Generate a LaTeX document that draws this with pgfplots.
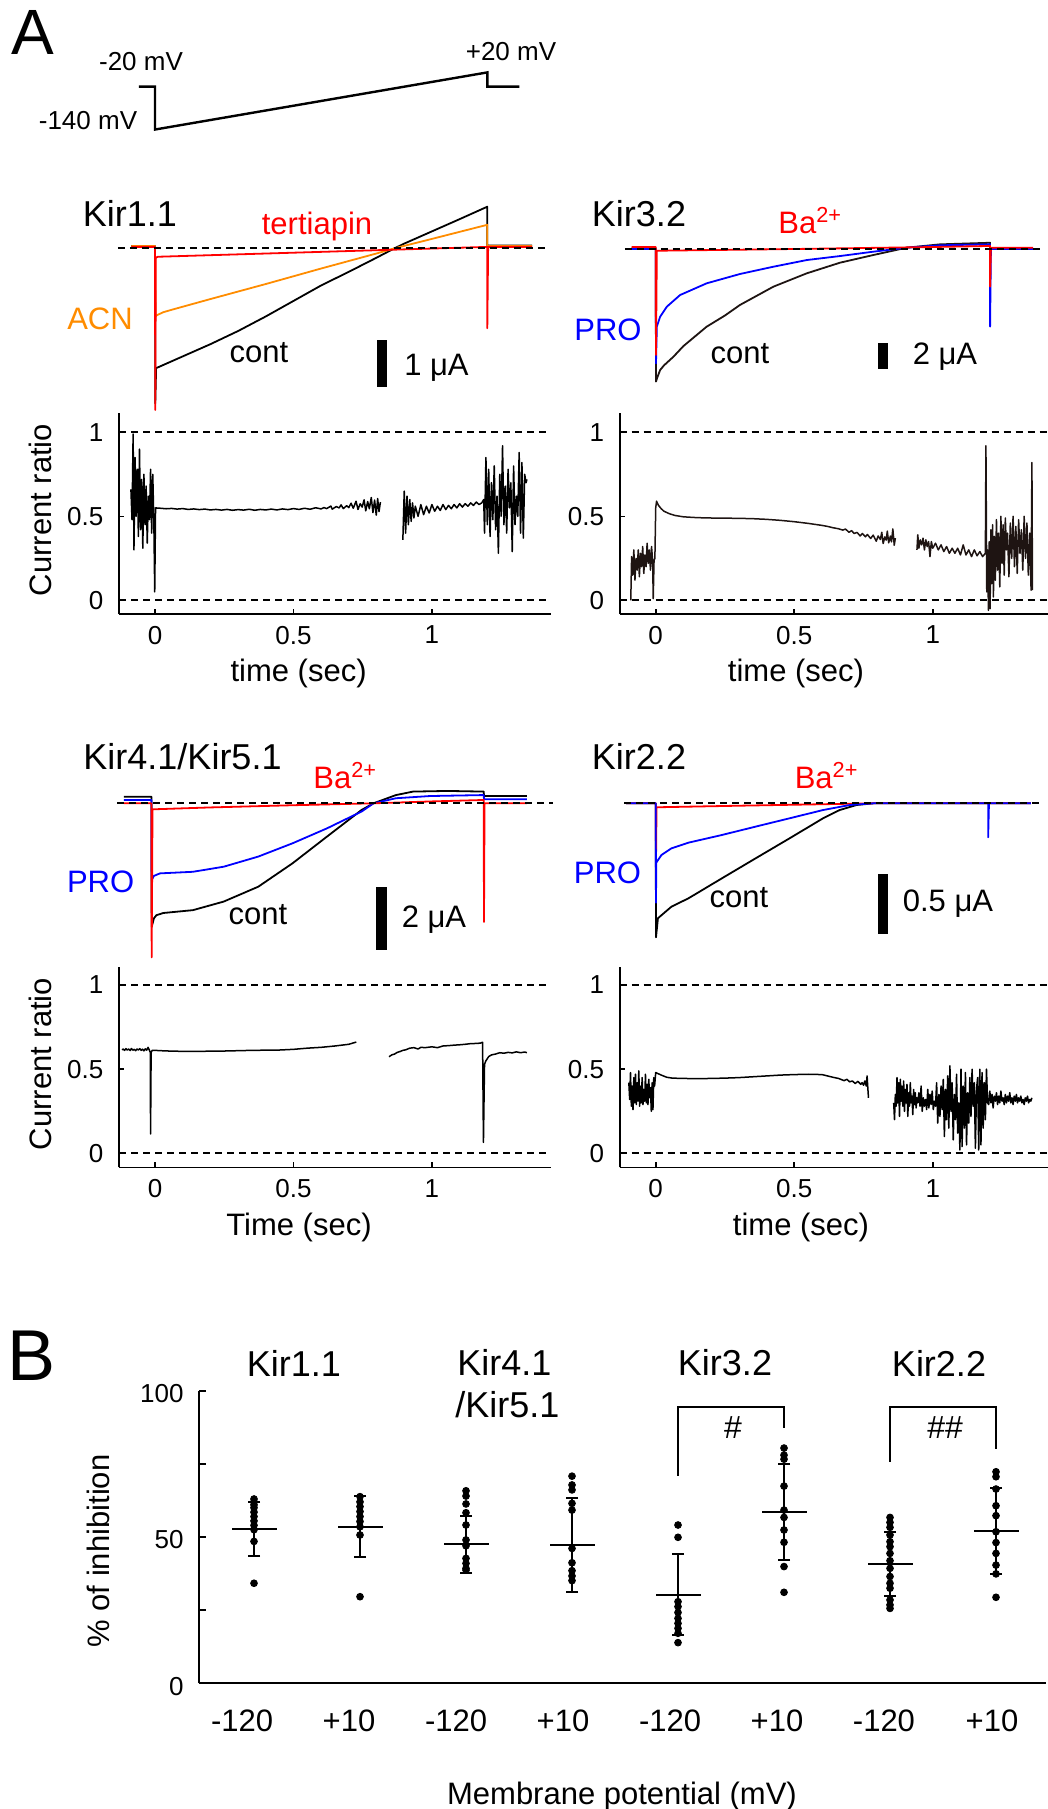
\documentclass[border=0pt]{standalone}
\usepackage{pgfplots}
\pgfplotsset{compat=1.18}
\usepackage{fontspec}
\setmainfont{Liberation Sans}
\definecolor{kred}{RGB}{255,0,0}
\definecolor{korange}{RGB}{255,140,0}
\definecolor{kblue}{RGB}{0,0,255}
\definecolor{kdark}{RGB}{30,20,18}
\newcommand{\fT}{\fontsize{18}{18}\selectfont}
\newcommand{\fL}{\fontsize{15.5}{15.5}\selectfont}
\newcommand{\fP}{\fontsize{13}{13}\selectfont}
\pgfplotsset{
 trace/.style={scale only axis, hide axis, clip=false},
 ratio/.style={scale only axis, width=216pt, height=100.5pt, axis lines*=left,
   axis line style={line width=0.8pt,-}, xmin=-0.13, xmax=1.43,
   xtick={0,0.5,1}, ytick={0,0.5,1}, tick align=inside, major tick length=2.5pt,
   tick style={line width=0.8pt,black}, tick label style={font=\fP},
   /pgf/number format/assume math mode=true,
   xticklabel style={yshift=-2.5pt}, yticklabel style={xshift=-4.3pt}, clip=false},
 tr/.style={line width=0.9pt, line join=round},
 base/.style={line width=0.9pt, dash pattern=on 3.5pt off 2.5pt, black},
 rt/.style={line width=0.75pt, line join=round},
}
\begin{document}
\begin{tikzpicture}
\path[use as bounding box] (0,0) rectangle (524pt,-904.5pt);

% ---------- voltage protocol ----------
\begin{axis}[trace, at={(59.5pt,-70pt)}, anchor=south west, width=216pt, height=50pt,
  xmin=-0.13, xmax=1.43, ymin=-169.3, ymax=110.8]
\addplot[line width=1.2pt, black] coordinates {(-0.058,-20) (0,-20) (0,-140) (1.2,20) (1.2,-20) (1.316,-20)};
\end{axis}

% ---------- Kir1.1 traces ----------
\begin{axis}[trace, at={(59.5pt,-210pt)}, anchor=south west, width=216pt, height=120pt,
  xmin=-0.13, xmax=1.43, ymin=-3.653, ymax=1.453]
\addplot[tr, black] coordinates {(-0.085,0.05) (0,0.05) (0.001,-3.3) (0.004,-2.55) (0.1,-2.3) (0.2,-2.04) (0.3,-1.76) (0.4,-1.45) (0.5,-1.12) (0.6,-0.79) (0.7,-0.5) (0.8,-0.2) (0.865,0) (0.9,0.1) (1.0,0.36) (1.1,0.62) (1.2,0.885) (1.2,0.06) (1.362,0.06)};
\addplot[tr, korange] coordinates {(-0.085,0.05) (0,0.05) (0.002,-1.45) (0.008,-1.42) (0.03,-1.36) (0.059,-1.31) (0.2,-1.08) (0.4,-0.76) (0.6,-0.43) (0.8,-0.11) (0.865,0) (1.0,0.2) (1.2,0.5) (1.2,0.05) (1.362,0.05)};
\addplot[tr, kred] coordinates {(-0.085,0.03) (0,0.03) (0.001,-3.44) (0.003,-0.2) (0.01,-0.18) (1.2,0.03) (1.2,-1.7) (1.203,0.03) (1.362,0.03)};
\addplot[base] coordinates {(-0.134,0) (1.42,0)};
\end{axis}

% ---------- Kir1.1 ratio ----------
\begin{axis}[ratio, at={(59.5pt,-307pt)}, anchor=south west, ymin=-0.0815, ymax=1.115]
\addplot[base] coordinates {(-0.13,1) (1.43,1)};
\addplot[base] coordinates {(-0.13,0) (1.43,0)};
\addplot[rt, black] coordinates {(-0.087,0.66)(-0.083,0.48)(-0.079,0.99)(-0.076,0.30)(-0.072,0.85)(-0.068,0.50)(-0.064,0.78)(-0.060,0.38)(-0.056,0.90)(-0.052,0.42)(-0.048,0.72)(-0.044,0.31)(-0.040,0.75)(-0.036,0.45)(-0.032,0.68)(-0.028,0.34)(-0.024,0.62)(-0.020,0.48)(-0.016,0.78)(-0.012,0.40)(-0.008,0.75)(-0.004,0.45)(-0.001,0.05)(0.002,0.55)
(0.02,0.548)(0.04,0.545)(0.06,0.547)(0.08,0.543)(0.10,0.546)(0.12,0.541)(0.14,0.544)(0.16,0.540)(0.18,0.543)(0.20,0.538)(0.22,0.541)(0.24,0.537)(0.26,0.541)(0.28,0.536)(0.30,0.540)(0.32,0.537)(0.34,0.542)(0.36,0.536)(0.38,0.541)(0.40,0.538)(0.42,0.543)(0.44,0.538)(0.46,0.544)(0.48,0.540)(0.50,0.546)(0.52,0.541)(0.54,0.548)(0.56,0.542)(0.58,0.551)(0.60,0.544)(0.61,0.552)(0.62,0.546)(0.635,0.561)(0.64,0.543)(0.655,0.558)(0.665,0.550)(0.672,0.568)(0.68,0.546)(0.692,0.563)(0.70,0.552)(0.708,0.578)(0.716,0.548)(0.726,0.590)(0.733,0.541)(0.741,0.575)(0.748,0.555)(0.755,0.598)(0.761,0.533)(0.768,0.588)(0.774,0.545)(0.781,0.612)(0.787,0.522)(0.793,0.597)(0.799,0.507)(0.804,0.606)(0.809,0.528)(0.814,0.585)};
\addplot[rt, black] coordinates {(0.895,0.36)(0.900,0.65)(0.905,0.40)(0.910,0.62)(0.915,0.45)(0.92,0.60)(0.925,0.47)(0.93,0.58)(0.935,0.49)(0.94,0.56)(0.95,0.50)(0.96,0.57)(0.97,0.51)(0.98,0.56)(0.99,0.52)(1.00,0.57)(1.01,0.53)(1.02,0.56)(1.03,0.535)(1.04,0.57)(1.05,0.54)(1.06,0.565)(1.07,0.545)(1.08,0.57)(1.09,0.55)(1.10,0.575)(1.11,0.555)(1.12,0.575)(1.13,0.56)(1.14,0.58)(1.15,0.565)(1.16,0.585)(1.17,0.57)(1.18,0.58)(1.187,0.60)
(1.190,0.40)(1.195,0.85)(1.200,0.45)(1.205,0.78)(1.210,0.38)(1.215,0.70)(1.220,0.48)(1.225,0.80)(1.230,0.42)(1.235,0.62)(1.240,0.28)(1.245,0.75)(1.250,0.50)(1.255,0.92)(1.260,0.45)(1.265,0.68)(1.270,0.40)(1.275,0.78)(1.280,0.55)(1.285,0.70)(1.290,0.29)(1.295,0.80)(1.300,0.45)(1.305,0.62)(1.310,0.50)(1.315,0.88)(1.320,0.40)(1.325,0.82)(1.330,0.37)(1.335,0.75)(1.340,0.70)(1.343,0.72)};
\end{axis}

% ---------- Kir3.2 traces ----------
\begin{axis}[trace, at={(309.85pt,-210pt)}, anchor=south west, width=214pt, height=120pt,
  xmin=-0.13, xmax=1.415, ymin=-12.86, ymax=5.19]
\addplot[tr, kdark] coordinates {(-0.087,0.05) (0,0.05) (0.001,-9.97) (0.005,-9.7) (0.016,-9.1) (0.03,-8.75) (0.064,-8.1) (0.1,-7.3) (0.184,-5.84) (0.25,-5.0) (0.304,-4.21) (0.425,-2.83) (0.545,-1.83) (0.665,-1.03) (0.786,-0.45) (0.906,0.1) (1.026,0.35) (1.207,0.47) (1.207,0.0) (1.362,0.0)};
\addplot[tr, kblue] coordinates {(-0.087,0) (0,0) (0.001,-8.6) (0.004,-5.84) (0.016,-5.09) (0.04,-4.34) (0.088,-3.46) (0.184,-2.58) (0.304,-1.88) (0.425,-1.33) (0.545,-0.83) (0.665,-0.53) (0.786,-0.2) (0.906,0.1) (1.026,0.28) (1.207,0.35) (1.207,-5.84) (1.210,0) (1.362,0)};
\addplot[tr, kred] coordinates {(-0.087,0.15) (0,0.15) (0.001,-7.97) (0.004,-0.13) (0.5,0.0) (1.0,0.15) (1.207,0.23) (1.207,-2.83) (1.210,0.1) (1.362,0.1)};
\addplot[base] coordinates {(-0.111,0) (1.398,0)};
\end{axis}

% ---------- Kir3.2 ratio ----------
\begin{axis}[ratio, at={(309.85pt,-307pt)}, anchor=south west, width=214pt, xmax=1.415, ymin=-0.0815, ymax=1.115]
\addplot[base] coordinates {(-0.13,1) (1.415,1)};
\addplot[base] coordinates {(-0.13,0) (1.415,0)};
\addplot[rt, kdark] coordinates {(-0.090,0.00)(-0.087,0.26)(-0.083,0.15)(-0.079,0.30)(-0.075,0.12)(-0.071,0.25)(-0.067,0.18)(-0.063,0.30)(-0.059,0.14)(-0.055,0.28)(-0.051,0.20)(-0.047,0.32)(-0.043,0.16)(-0.039,0.27)(-0.035,0.20)(-0.031,0.34)(-0.027,0.22)(-0.023,0.30)(-0.019,0.18)(-0.015,0.32)(-0.011,0.23)(-0.009,0.01)(-0.006,0.24)(-0.003,0.25)(0.000,0.55)(0.003,0.59)(0.01,0.565)(0.02,0.545)(0.03,0.53)(0.05,0.515)(0.07,0.505)(0.10,0.497)(0.15,0.492)(0.20,0.490)(0.25,0.489)(0.30,0.488)(0.35,0.486)(0.40,0.482)(0.45,0.476)(0.50,0.468)(0.55,0.458)(0.60,0.446)(0.62,0.440)(0.64,0.432)(0.66,0.426)(0.675,0.418)(0.685,0.424)(0.698,0.405)(0.707,0.415)(0.716,0.398)(0.727,0.404)(0.738,0.383)(0.746,0.398)(0.757,0.378)(0.764,0.392)(0.776,0.368)(0.785,0.388)(0.796,0.352)(0.803,0.383)(0.811,0.362)(0.816,0.405)(0.821,0.338)(0.827,0.377)(0.832,0.358)(0.836,0.412)(0.841,0.342)(0.847,0.382)(0.851,0.348)(0.856,0.425)(0.861,0.328)(0.865,0.37)};
\addplot[rt, kdark] coordinates {(0.943,0.30)(0.946,0.39)(0.95,0.31)(0.955,0.36)(0.96,0.33)(0.965,0.37)(0.97,0.30)(0.975,0.36)(0.98,0.32)(0.985,0.35)(0.99,0.26)(0.995,0.35)(1.00,0.31)(1.01,0.34)(1.02,0.30)(1.03,0.33)(1.04,0.29)(1.05,0.32)(1.06,0.28)(1.07,0.31)(1.08,0.28)(1.09,0.31)(1.10,0.27)(1.11,0.33)(1.12,0.27)(1.13,0.30)(1.14,0.26)(1.15,0.30)(1.16,0.265)(1.17,0.29)(1.18,0.26)(1.19,0.28)
(1.192,0.92)(1.195,0.05)(1.198,0.30)(1.201,-0.06)(1.204,0.35)(1.207,-0.05)(1.210,0.42)(1.213,0.10)(1.216,0.45)(1.219,0.02)(1.222,0.38)(1.226,0.12)(1.230,0.48)(1.234,0.18)(1.238,0.40)(1.242,0.08)(1.246,0.50)(1.250,0.22)(1.254,0.45)(1.258,0.15)(1.262,0.49)(1.266,0.30)(1.270,0.40)(1.275,0.14)(1.280,0.46)(1.285,0.25)(1.290,0.50)(1.295,0.20)(1.300,0.44)(1.305,0.16)(1.310,0.48)(1.315,0.28)(1.320,0.42)(1.325,0.18)(1.330,0.50)(1.335,0.25)(1.340,0.46)(1.345,0.15)(1.350,0.40)(1.355,0.06)(1.358,0.82)(1.360,0.06)};
\end{axis}

% ---------- Kir4.1/Kir5.1 traces ----------
\begin{axis}[trace, at={(59.5pt,-487.5pt)}, anchor=south west, width=216pt, height=122.5pt,
  xmin=-0.13, xmax=1.43, ymin=-5.416, ymax=2.312]
\addplot[tr, black] coordinates {(-0.112,0.21) (-0.013,0.21) (-0.012,-3.9) (-0.004,-3.63) (0.005,-3.53) (0.03,-3.46) (0.137,-3.37) (0.248,-3.1) (0.373,-2.63) (0.497,-1.89) (0.621,-1.05) (0.746,-0.21) (0.789,0) (0.87,0.26) (0.932,0.37) (1.057,0.39) (1.187,0.37) (1.188,0.23) (1.343,0.23)};
\addplot[tr, kblue] coordinates {(-0.112,0.105) (-0.013,0.105) (-0.012,-2.42) (-0.004,-2.29) (0.018,-2.21) (0.137,-2.16) (0.248,-2.0) (0.373,-1.68) (0.497,-1.26) (0.621,-0.79) (0.746,-0.26) (0.789,0) (0.87,0.16) (0.994,0.23) (1.187,0.26) (1.188,0.13) (1.343,0.13)};
\addplot[tr, kred] coordinates {(-0.112,0) (-0.013,0) (-0.012,-4.86) (-0.009,-0.19) (0.2,-0.13) (0.5,-0.06) (0.789,0) (1.0,0.06) (1.187,0.105) (1.188,-3.74) (1.190,0) (1.343,0)};
\addplot[base] coordinates {(-0.137,0) (1.437,0)};
\end{axis}

% ---------- Kir4.1 ratio ----------
\begin{axis}[ratio, at={(59.5pt,-583.65pt)}, anchor=south west, height=100.3pt, ymin=-0.083, ymax=1.109]
\addplot[base] coordinates {(-0.13,1) (1.43,1)};
\addplot[base] coordinates {(-0.13,0) (1.43,0)};
\addplot[rt, black] coordinates {(-0.119,0.615)(-0.115,0.62)(-0.11,0.612)(-0.105,0.622)(-0.10,0.614)(-0.095,0.62)(-0.09,0.611)(-0.085,0.623)(-0.08,0.613)(-0.075,0.618)(-0.07,0.61)(-0.065,0.62)(-0.06,0.614)(-0.055,0.622)(-0.05,0.612)(-0.045,0.619)(-0.04,0.609)(-0.035,0.621)(-0.03,0.613)(-0.025,0.63)(-0.02,0.612)(-0.017,0.60)(-0.016,0.115)(-0.014,0.60)(-0.01,0.612)(0.0,0.612)(0.02,0.610)(0.05,0.608)(0.1,0.606)(0.15,0.606)(0.2,0.607)(0.25,0.608)(0.3,0.610)(0.35,0.612)(0.4,0.613)(0.45,0.614)(0.5,0.618)(0.55,0.625)(0.6,0.63)(0.65,0.638)(0.7,0.648)(0.72,0.658)(0.727,0.661)};
\addplot[rt, black] coordinates {(0.845,0.574)(0.855,0.585)(0.865,0.59)(0.875,0.60)(0.885,0.605)(0.895,0.612)(0.905,0.615)(0.92,0.625)(0.935,0.628)(0.95,0.62)(0.96,0.63)(0.975,0.628)(1.0,0.633)(1.02,0.628)(1.04,0.638)(1.06,0.64)(1.08,0.643)(1.1,0.645)(1.12,0.648)(1.14,0.652)(1.16,0.653)(1.175,0.655)(1.183,0.66)(1.186,0.065)(1.188,0.30)(1.190,0.53)(1.195,0.55)(1.205,0.575)(1.215,0.585)(1.23,0.59)(1.245,0.598)(1.26,0.595)(1.275,0.60)(1.29,0.597)(1.305,0.603)(1.32,0.598)(1.335,0.602)(1.343,0.598)};
\end{axis}

% ---------- Kir2.2 traces ----------
\begin{axis}[trace, at={(309.85pt,-487.5pt)}, anchor=south west, width=214pt, height=122.5pt,
  xmin=-0.13, xmax=1.415, ymin=-1.431, ymax=0.611]
\addplot[tr, black] coordinates {(-0.107,0) (0,0) (0.001,-1.117) (0.008,-0.958) (0.057,-0.861) (0.118,-0.792) (0.239,-0.625) (0.361,-0.458) (0.483,-0.292) (0.604,-0.125) (0.664,-0.056) (0.725,-0.014) (0.786,0) (1.354,0)};
\addplot[tr, kred] coordinates {(-0.107,0) (0,0) (0.001,-0.486) (0.003,-0.033) (0.3,-0.02) (0.786,0) (1.354,0)};
\addplot[tr, kblue] coordinates {(-0.107,0) (0,0) (0.001,-0.828) (0.002,-0.494) (0.021,-0.43) (0.057,-0.375) (0.118,-0.328) (0.239,-0.264) (0.361,-0.194) (0.483,-0.125) (0.604,-0.056) (0.701,-0.014) (0.786,0) (1.2,0) (1.2,-0.283) (1.203,0) (1.354,0)};
\addplot[base] coordinates {(-0.113,0) (1.394,0)};
\end{axis}

% ---------- Kir2.2 ratio ----------
\begin{axis}[ratio, at={(309.85pt,-583.65pt)}, anchor=south west, width=214pt, xmax=1.415, height=100.3pt, ymin=-0.083, ymax=1.109]
\addplot[base] coordinates {(-0.13,1) (1.415,1)};
\addplot[base] coordinates {(-0.13,0) (1.415,0)};
\addplot[rt, black] coordinates {(-0.097,0.42)(-0.094,0.32)(-0.091,0.48)(-0.088,0.28)(-0.085,0.40)(-0.082,0.26)(-0.079,0.45)(-0.076,0.30)(-0.073,0.47)(-0.070,0.29)(-0.067,0.42)(-0.064,0.31)(-0.061,0.49)(-0.058,0.28)(-0.055,0.40)(-0.052,0.30)(-0.049,0.45)(-0.046,0.29)(-0.043,0.38)(-0.040,0.31)(-0.037,0.47)(-0.034,0.30)(-0.031,0.41)(-0.028,0.29)(-0.025,0.44)(-0.022,0.33)(-0.019,0.39)(-0.016,0.25)(-0.013,0.42)(-0.010,0.26)(-0.007,0.45)(-0.004,0.40)(0.000,0.48)(0.02,0.465)(0.04,0.452)(0.06,0.447)(0.1,0.445)(0.15,0.444)(0.2,0.445)(0.25,0.447)(0.3,0.45)(0.35,0.455)(0.4,0.46)(0.45,0.465)(0.5,0.468)(0.55,0.47)(0.6,0.468)(0.62,0.46)(0.64,0.452)(0.66,0.445)(0.68,0.432)(0.69,0.44)(0.70,0.425)(0.71,0.43)(0.72,0.415)(0.73,0.428)(0.74,0.41)(0.745,0.42)(0.75,0.405)(0.755,0.43)(0.76,0.40)(0.763,0.46)(0.766,0.38)(0.768,0.33)};
\addplot[rt, black] coordinates {(0.859,0.30)(0.862,0.20)(0.865,0.35)(0.868,0.28)(0.871,0.45)(0.874,0.30)(0.877,0.42)(0.880,0.22)(0.883,0.44)(0.886,0.31)(0.889,0.40)(0.892,0.28)(0.895,0.43)(0.898,0.25)(0.901,0.38)(0.904,0.30)(0.907,0.41)(0.910,0.22)(0.913,0.36)(0.916,0.28)(0.919,0.42)(0.922,0.30)(0.925,0.34)(0.928,0.23)(0.931,0.38)(0.934,0.29)(0.937,0.36)(0.940,0.27)(0.943,0.33)(0.946,0.30)(0.950,0.36)(0.954,0.28)(0.958,0.40)(0.962,0.25)(0.966,0.33)(0.970,0.28)(0.974,0.32)(0.978,0.26)(0.982,0.38)(0.986,0.27)(0.990,0.35)(0.994,0.29)(0.998,0.37)(1.002,0.26)(1.006,0.31)(1.010,0.28)(1.014,0.42)(1.018,0.18)(1.022,0.35)(1.026,0.22)(1.030,0.40)(1.034,0.26)(1.038,0.44)(1.042,0.10)(1.046,0.38)(1.050,0.20)(1.054,0.46)(1.058,0.15)(1.062,0.52)(1.066,0.25)(1.070,0.42)(1.074,0.08)(1.078,0.35)(1.082,0.20)(1.086,0.47)(1.090,0.12)(1.094,0.30)(1.098,0.02)(1.102,0.50)(1.106,0.04)(1.110,0.40)(1.114,0.15)(1.118,0.48)(1.122,0.05)(1.126,0.36)(1.130,0.18)(1.134,0.45)(1.138,0.22)(1.142,0.50)(1.146,0.28)(1.150,0.42)(1.154,0.03)(1.158,0.38)(1.162,0.45)(1.166,0.02)(1.170,0.50)(1.174,0.05)(1.178,0.48)(1.182,0.15)(1.186,0.42)(1.190,0.20)(1.194,0.50)(1.198,0.30)(1.202,0.29)(1.206,0.37)(1.210,0.30)(1.214,0.35)(1.218,0.27)(1.222,0.34)(1.226,0.31)(1.230,0.36)(1.234,0.29)(1.238,0.34)(1.242,0.30)(1.246,0.37)(1.250,0.31)(1.254,0.33)(1.258,0.29)(1.262,0.35)(1.266,0.30)(1.270,0.34)(1.274,0.31)(1.278,0.36)(1.282,0.30)(1.286,0.33)(1.290,0.29)(1.294,0.34)(1.298,0.31)(1.302,0.35)(1.306,0.30)(1.310,0.33)(1.314,0.31)(1.318,0.34)(1.322,0.30)(1.326,0.32)(1.330,0.29)(1.334,0.33)(1.338,0.31)(1.342,0.34)(1.346,0.30)(1.350,0.32)(1.354,0.31)(1.358,0.33)};
\end{axis}

% ---------- Panel B ----------
\begin{axis}[scale only axis, at={(99.5pt,-841.65pt)}, anchor=south west, width=423.5pt, height=146.3pt,
  xmin=0.4811, xmax=8.4717, ymin=0, ymax=100, axis lines*=left, axis line style={line width=0.9pt,-},
  ytick={0,25,50,75,100}, yticklabels={0,,50,,100},
  xtick={0.887,1.896,2.906,3.915,4.925,5.934,6.943,7.962},
  xticklabels={-120,+10,-120,+10,-120,+10,-120,+10},
  tick align=inside, major tick length=3.5pt, tick style={line width=0.9pt,black},
  x tick style={draw=none},
  xticklabel style={font=\fL, yshift=-9.7pt},
  yticklabel style={font=\fP, xshift=-4.2pt, yshift=-1.5pt},
  /pgf/number format/assume math mode=true, clip=false]
\addplot[only marks, mark=*, mark size=1.7pt, black] coordinates {
(1,63.0)(1,62.0)(1,61.0)(1,60.0)(1,58.5)(1,57.0)(1,55.5)(1,54.0)(1,52.5)(1,48.5)(1,34.2)
(2,63.8)(2,62.0)(2,60.4)(2,58.7)(2,57.0)(2,55.3)(2,53.5)(2,50.7)(2,29.6)
(3,65.8)(3,64.0)(3,61.3)(3,58.3)(3,54.1)(3,49.0)(3,47.0)(3,42.7)(3,41.0)(3,39.3)(3,38.7)
(4,70.8)(4,67.8)(4,66.1)(4,61.5)(4,59.2)(4,46.1)(4,41.2)(4,38.5)(4,36.7)(4,35.1)
(5,54.1)(5,49.9)(5,27.9)(5,26.2)(5,24.2)(5,22.2)(5,20.5)(5,18.8)(5,17.1)(5,13.9)
(6,80.4)(6,78.0)(6,76.6)(6,67.4)(6,59.2)(6,56.7)(6,52.4)(6,48.2)(6,39.9)(6,31.1)
(7,56.7)(7,55.0)(7,53.3)(7,50.7)(7,48.4)(7,46.7)(7,44.4)(7,41.9)(7,39.3)(7,36.5)(7,34.2)(7,32.5)(7,28.5)(7,26.8)(7,25.6)
(8,72.3)(8,70.6)(8,66.4)(8,60.7)(8,57.3)(8,51.8)(8,48.1)(8,44.4)(8,40.4)(8,37.4)(8,29.4)};
\addplot[only marks, mark=-, mark size=11.25pt, mark options={line width=1pt}, black,
  error bars/.cd, y dir=both, y explicit, error mark=none, error bar style={line width=1pt, black}]
 coordinates {(1,52.6) += (0,9.5) -= (0,9.1)
 (2,53.5) += (0,10.6) -= (0,10.4)
 (3,47.6) += (0,9.7) -= (0,9.8)
 (4,47.3) += (0,16.1) -= (0,16.0)
 (5,30.3) += (0,13.9) -= (0,13.9)
 (6,58.6) += (0,16.4) -= (0,16.3)
 (7,40.7) += (0,10.9) -= (0,10.7)
 (8,52.1) += (0,14.5) -= (0,14.7)};
\addplot[only marks, mark=-, mark size=3pt, mark options={line width=1pt}, black] coordinates {
(1,62.1)(1,43.5)(2,64.1)(2,43.1)(3,57.3)(3,37.8)(4,63.4)(4,31.3)(5,44.2)(5,16.4)(6,75.0)(6,42.3)(7,51.6)(7,30.0)(8,66.6)(8,37.4)};
\addplot[line width=1pt, black] coordinates {(5,70.9) (5,94.4) (6,94.4) (6,87.3)};
\addplot[line width=1pt, black] coordinates {(7,75.7) (7,94.4) (8,94.4) (8,80.1)};
\node[font=\fontsize{16}{16}\selectfont] at (axis cs:5.52,87.3) {\#};
\node[font=\fontsize{16}{16}\selectfont] at (axis cs:7.52,87.3) {\#\#};
\end{axis}

% ---------- text and scale bars ----------
\begin{scope}[x=0.5pt, y=-0.5pt, every node/.style={inner sep=0pt}]
\node[font=\fontsize{32}{32}\selectfont] at (32.5,32) {A};
\node[font=\fontsize{36}{36}\selectfont] at (32,1356) {B};
% protocol
\node[font=\fP] at (141,62) {-20 mV};
\node[font=\fP] at (88,121) {-140 mV};
\node[font=\fP] at (511,52) {+20 mV};
% Kir1.1
\node[font=\fT] at (130,213) {Kir1.1};
\node[font=\fL, text=kred] at (317,226) {tertiapin};
\node[font=\fL, text=korange] at (100,318.5) {ACN};
\node[font=\fL] at (259,353) {cont};
\fill[black] (377,340) rectangle (387,387);
\node[font=\fL] at (436.5,367.5) {1 μA};
% Kir3.2
\node[font=\fT] at (639,214) {Kir3.2};
\node[font=\fL, text=kred, anchor=base west] at (778,233) {Ba\textsuperscript{2+}};
\node[font=\fL, text=kblue] at (608,330) {PRO};
\node[font=\fL] at (740,354) {cont};
\fill[black] (878,342.7) rectangle (888,369.3);
\node[font=\fL] at (945,356.5) {2 μA};
% Kir4.1/Kir5.1
\node[font=\fT] at (182.5,757) {Kir4.1/Kir5.1};
\node[font=\fL, text=kred, anchor=base west] at (313,788.3) {Ba\textsuperscript{2+}};
\node[font=\fL, text=kblue] at (100.6,882) {PRO};
\node[font=\fL] at (258,915) {cont};
\fill[black] (376,886.7) rectangle (387,950);
\node[font=\fL] at (434,920) {2 μA};
% Kir2.2
\node[font=\fT] at (639,756) {Kir2.2};
\node[font=\fL, text=kred, anchor=base west] at (794.4,788.3) {Ba\textsuperscript{2+}};
\node[font=\fL, text=kblue] at (607.5,873) {PRO};
\node[font=\fL] at (739,898) {cont};
\fill[black] (877.6,874) rectangle (887.7,934);
\node[font=\fL] at (948,904) {0.5 μA};
% ratio axis labels
\node[font=\fL, rotate=90] at (40,510) {Current ratio};
\node[font=\fL, rotate=90] at (40,1064) {Current ratio};
\node[font=\fL] at (298.6,673) {time (sec)};
\node[font=\fL] at (796,673) {time (sec)};
\node[font=\fL] at (299,1227) {Time (sec)};
\node[font=\fL] at (801,1227) {time (sec)};
% panel B labels
\node[font=\fT] at (294,1363) {Kir1.1};
\node[font=\fT, anchor=west] at (457,1362) {Kir4.1};
\node[font=\fT, anchor=west] at (455,1405) {/Kir5.1};
\node[font=\fT] at (725,1363) {Kir3.2};
\node[font=\fT] at (939,1363) {Kir2.2};
\node[font=\fL, rotate=90] at (98,1551) {\% of inhibition};
\node[font=\fL] at (622,1796) {Membrane potential (mV)};
\end{scope}
\end{tikzpicture}
\end{document}
